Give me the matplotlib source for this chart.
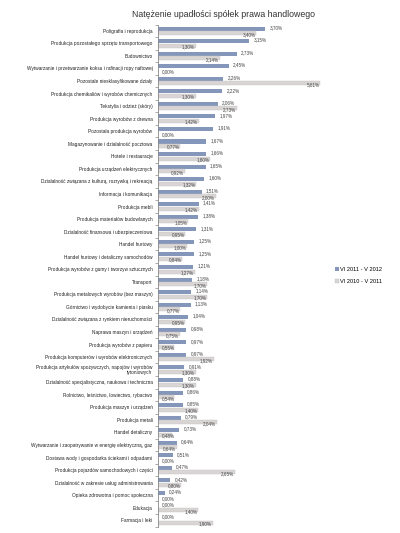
import numpy as np
import matplotlib.pyplot as plt

plt.rcParams['font.family'] = ['Liberation Sans', 'DejaVu Sans']

# dane: kategorie i dwa okresy (w %)
kategorie = [
    'Poligrafia i reprodukcja',
    'Produkcja pozostałego sprzętu transportowego',
    'Budownictwo',
    'Wytwarzanie i przetwarzanie koksu i rafinacji ropy naftowej',
    'Pozostałe niesklasyfikowane działy',
    'Produkcja chemikaliów i wyrobów chemicznych',
    'Tekstylia i odzież (skóry)',
    'Produkcja wyrobów z drewna',
    'Pozostała produkcja wyrobów',
    'Magazynowanie i działalność pocztowa',
    'Hotele i restauracje',
    'Produkcja urządzeń elektrycznych',
    'Działalność związana z kulturą, rozrywką i rekreacją',
    'Informacja i komunikacja',
    'Produkcja mebli',
    'Produkcja materiałów budowlanych',
    'Działalność finansowa i ubezpieczeniowa',
    'Handel hurtowy',
    'Handel hurtowy i detaliczny samochodów',
    'Produkcja wyrobów z gumy i tworzyw sztucznych',
    'Transport',
    'Produkcja metalowych wyrobów (bez maszyn)',
    'Górnictwo i wydobycie kamienia i piasku',
    'Działalność związana z rynkiem nieruchomości',
    'Naprawa maszyn i urządzeń',
    'Produkcja wyrobów z papieru',
    'Produkcja komputerów i wyrobów elektronicznych',
    'Produkcja artykułów spożywczych, napojów i wyrobów\ntytoniowych',
    'Działalność specjalistyczna, naukowa i techniczna',
    'Rolnictwo, leśnictwo, łowiectwo, rybactwo',
    'Produkcja maszyn i urządzeń',
    'Produkcja metali',
    'Handel detaliczny',
    'Wytwarzanie i zaopatrywanie w energię elektryczną, gaz',
    'Dostawa wody i gospodarka ściekami i odpadami',
    'Produkcja pojazdów samochodowych i części',
    'Działalność w zakresie usług administrowania',
    'Opieka zdrowotna i pomoc społeczna',
    'Edukacja',
    'Farmacja i leki',
]

okres_2011_2012 = [3.70, 3.15, 2.73, 2.45, 2.26, 2.22, 2.06, 1.97, 1.91, 1.67,
                   1.66, 1.65, 1.60, 1.51, 1.41, 1.38, 1.31, 1.25, 1.25, 1.21,
                   1.18, 1.14, 1.13, 1.04, 0.98, 0.97, 0.97, 0.91, 0.88, 0.86,
                   0.85, 0.79, 0.73, 0.64, 0.51, 0.47, 0.42, 0.24, 0.00, 0.00]

okres_2010_2011 = [3.40, 1.30, 2.14, 0.00, 5.61, 1.30, 2.73, 1.42, 0.00, 0.77,
                   1.80, 0.92, 1.32, 2.00, 1.42, 1.05, 0.95, 1.00, 0.84, 1.27,
                   1.70, 1.70, 0.77, 0.95, 0.75, 0.55, 1.92, 1.30, 1.30, 0.54,
                   1.40, 2.04, 0.48, 0.64, 0.00, 2.65, 0.80, 0.00, 1.40, 1.90]

seria_nazwy = ['VI 2011 - V 2012', 'VI 2010 - V 2011']
kolor_niebieski = '#8496b9'
kolor_szary = '#d9d5d5'


def fmt(v):
    return f'{v:.2f}%'.replace('.', ',')


fig = plt.figure(figsize=(4, 5.33), dpi=100)
ax = fig.add_axes([0.395, 0.012, 0.43, 0.942])

n = len(kategorie)
y = np.arange(n)
h = 0.32

ax.barh(y - h / 2 - 0.02, okres_2011_2012, height=h, color=kolor_niebieski,
        label=seria_nazwy[0])
ax.barh(y + h / 2 + 0.02, okres_2010_2011, height=h, color=kolor_szary,
        edgecolor='#c8c4c4', linewidth=0.3, label=seria_nazwy[1])

# etykiety wartosci
for i in range(n):
    v1 = okres_2011_2012[i]
    v2 = okres_2010_2011[i]
    ax.text(v1 + 0.15, y[i] - h / 2 - 0.1, fmt(v1), fontsize=3.3,
            va='center', ha='left', color='#444444')
    ax.text(max(v2, 0.62) - 0.03, y[i] + h / 2 + 0.12, fmt(v2), fontsize=3.3,
            va='center', ha='right', color='#444444')

ax.set_ylim(n - 0.5, -0.5)
ax.set_xlim(0, 5.95)
ax.set_yticks(y)
ax.set_yticklabels(kategorie, fontsize=3.4, color='#222222', linespacing=0.95)
ax.set_yticks(np.arange(n + 1) - 0.5, minor=True)
ax.tick_params(axis='y', which='major', length=0, pad=4)
ax.tick_params(axis='y', which='minor', length=2, width=0.5, color='#888888')
ax.set_xticks([])
for s in ['top', 'right', 'bottom']:
    ax.spines[s].set_visible(False)
ax.spines['left'].set_color('#888888')
ax.spines['left'].set_linewidth(0.6)

fig.text(0.558, 0.972, 'Natężenie upadłości spółek prawa handlowego',
         ha='center', va='center', fontsize=6.3, color='#333333')

ax.legend(loc='center left', bbox_to_anchor=(1.0, 0.5), frameon=False,
          fontsize=4.1, handlelength=0.6, handleheight=0.6,
          labelspacing=1.3, handletextpad=0.3)

plt.savefig('out.png', dpi=100)
